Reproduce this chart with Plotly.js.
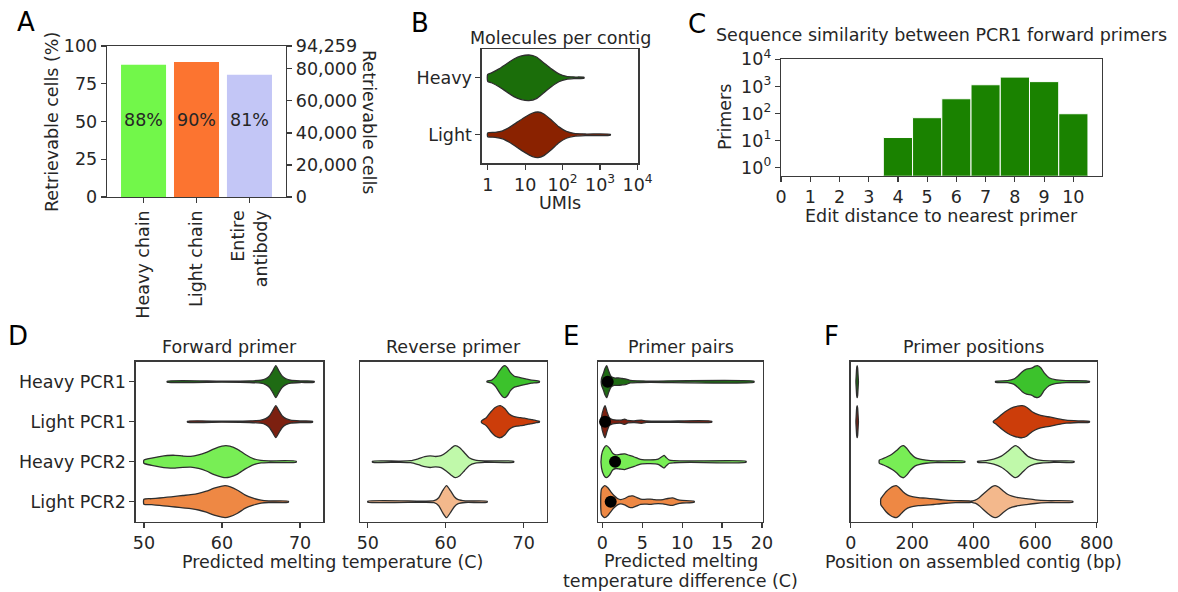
<!DOCTYPE html>
<html><head><meta charset="utf-8">
<script src="https://cdn.plot.ly/plotly-3.0.1.min.js"></script>
<style>html,body{margin:0;padding:0;background:#fff}#chart{width:1178px;height:592px}</style>
</head><body><div id="chart"></div>
<script>
// ---------- Panel A ----------
const A_categories = ["Heavy chain", "Light chain", "Entire<br>antibody"];
const A_percent = [87.6, 89.4, 80.9];
const A_labels = ["88%", "90%", "81%"];
const A_total_cells = 94259;
const A_cell_ticks = [0, 20000, 40000, 60000, 80000, 94259];
const A_pct_ticks = [0, 25, 50, 75, 100];
const A_colors = ["#72f74a", "#fc7430", "#c3c6f6"];

// ---------- Panel B ----------
const B_groups = ["Heavy", "Light"];
const B_heavy_umi = [1, 1.26, 2, 3.16, 5, 7.94, 12.6, 20, 31.6, 50, 79.4, 126, 200, 370];
const B_heavy_density = [3.5, 5, 9, 14, 19, 22, 23, 21, 15, 9, 4, 1.5, 0.8, 0.5];
const B_light_umi = [1, 1.58, 2.5, 4, 6.3, 10, 15.8, 22, 31.6, 50, 79.4, 126, 200, 400, 1860];
const B_light_density = [2, 2.5, 4, 8, 13, 18, 22, 23, 21, 15, 8, 3.5, 1.5, 0.8, 0.5];
const B_colors = ["#1b6e0a", "#8a2200"];
const B_ticks = [1, 10, 100, 1000, 10000];
const B_ticktext = ["1", "10", "10<sup>2</sup>", "10<sup>3</sup>", "10<sup>4</sup>"];

// ---------- Panel C ----------
const C_edit_distance = [4, 5, 6, 7, 8, 9, 10];
const C_primers = [13, 70, 350, 1150, 2200, 1500, 98];
const C_xticks = [0,1,2,3,4,5,6,7,8,9,10];
const C_yticks = [1, 10, 100, 1000, 10000];
const C_yticktext = ["10<sup>0</sup>", "10<sup>1</sup>", "10<sup>2</sup>", "10<sup>3</sup>", "10<sup>4</sup>"];

// ---------- Panel D ----------
const D_rows = ["Heavy PCR1", "Light PCR1", "Heavy PCR2", "Light PCR2"];
const D_fwd_colors = ["#1f6b14", "#7c2010", "#78ee55", "#ee8844"];
const D_rev_colors = ["#3cc22c", "#cc3d0a", "#c0f9aa", "#f3b88c"];
const D_fwd_tm = [
  [53, 60, 63.5, 65, 65.6, 66.1, 66.5, 66.9, 67.3, 67.7, 68.2, 68.8, 70, 71.8],
  [55.6, 60, 63.5, 65, 65.6, 66.1, 66.5, 66.9, 67.3, 67.7, 68.2, 68.8, 70, 71.6],
  [50, 51, 52, 53, 54, 55, 56, 57, 58, 59, 60, 60.5, 61, 62, 63, 64, 65, 66, 69.5],
  [50, 51, 52, 53, 54, 55, 56, 57, 58, 59, 60, 60.4, 61, 62, 63, 64, 65, 66, 68.5]
];
const D_fwd_density = [
  [0.5, 0.5, 0.8, 1.5, 3, 6, 11, 16.5, 11, 6, 3, 1.5, 0.8, 0.5],
  [0.5, 0.5, 0.8, 1.5, 3, 6, 11, 16, 11, 6, 3, 1.5, 0.8, 0.5],
  [1.5, 3.5, 5, 6, 6.2, 5.5, 5.2, 6.5, 9, 12.5, 15, 15.5, 15, 12, 7, 3, 1.2, 0.8, 0.5],
  [2.5, 3, 3.7, 4.5, 5.3, 6.2, 7, 8.3, 10.5, 13.5, 15.5, 16, 15, 11.5, 6.5, 3.5, 1.5, 0.8, 0.5]
];
const D_rev_tm = [
  [65.3, 65.9, 66.4, 66.9, 67.3, 67.6, 67.9, 68.3, 68.8, 69.3, 69.8, 70.4, 71.0, 72.0],
  [64.6, 65.2, 65.8, 66.4, 67.0, 67.6, 68.1, 68.6, 69.1, 69.6, 70.1, 70.6, 71.1, 71.6, 72.0],
  [50.6, 54, 55.5, 56.5, 57.3, 58, 58.7, 59.4, 60.1, 60.7, 61.2, 61.8, 62.4, 63.0, 63.8, 65, 68.7],
  [50, 57, 58.5, 59.1, 59.6, 60.1, 60.6, 61.1, 61.6, 62.5, 65.3]
];
const D_rev_density = [
  [0.5, 1.5, 5, 11, 15, 16, 14, 9, 5.5, 4.5, 3.5, 2.5, 1.5, 0.5],
  [1, 4, 10, 14.5, 16, 13, 8, 5.5, 4.5, 4, 3.5, 2.5, 2, 1, 0.5],
  [0.5, 0.6, 1, 3, 5, 5.8, 5.2, 6, 9.5, 13.5, 16, 14, 9, 4, 1.5, 0.7, 0.5],
  [0.5, 0.6, 1, 4, 11, 16, 11, 5, 2, 0.8, 0.5]
];

// ---------- Panel E ----------
const E_diff = [
  [-0.1, 0.15, 0.35, 0.55, 0.8, 1.1, 1.5, 2.0, 2.5, 3.0, 3.5, 4.5, 6, 19],
  [-0.1, 0.15, 0.35, 0.6, 0.9, 1.3, 1.8, 2.4, 2.8, 3.2, 4, 4.9, 5.5, 8, 13.7],
  [-0.1, 0.2, 0.5, 0.9, 1.3, 1.7, 2.2, 2.8, 3.4, 4.0, 4.5, 5.0, 6.0, 7.0, 7.5, 7.75, 8.0, 8.4, 9, 11, 18],
  [-0.1, 0.3, 0.7, 1.1, 1.5, 1.9, 2.3, 2.8, 3.3, 3.8, 4.3, 4.8, 5.3, 6.0, 6.5, 7.0, 7.6, 8.2, 8.8, 9.4, 10, 11.5]
];
const E_density = [
  [3, 8, 12.5, 15, 10, 5, 3.5, 3.5, 3, 2.5, 1.2, 0.8, 0.6, 0.5],
  [4, 12, 15, 9, 3.5, 2, 1.5, 1.5, 2.5, 1.2, 0.8, 1.5, 0.7, 0.5, 0.5],
  [6, 13, 15.3, 13, 8, 6.5, 7, 7.5, 6, 4.5, 3, 2, 1.8, 2.5, 5, 6, 4, 1.5, 1, 0.7, 0.5],
  [12, 15, 13, 9, 5.5, 3, 2, 3, 5, 5.5, 4, 2.5, 2.2, 2.5, 2, 1.8, 2, 3, 3.5, 2, 1.2, 0.5]
];
const E_median = [0.68, 0.35, 1.6, 1.05];

// ---------- Panel F ----------
const F_fwd_pos = [
  [17, 18, 19.5, 21, 22.5, 24, 25],
  [17, 18, 19.5, 21, 22.5, 24, 25],
  [93, 105, 120, 135, 150, 162, 172, 182, 195, 210, 225, 245, 275, 371],
  [98, 105, 115, 128, 140, 148, 158, 170, 185, 200, 220, 245, 270, 300, 340, 395]
];
const F_fwd_density = [
  [1, 6, 13, 15, 13, 6, 1],
  [1, 6, 13, 15, 13, 6, 1],
  [1.5, 3, 5, 7.5, 11, 14.5, 15.5, 13, 8, 4, 2.5, 1.5, 0.8, 0.5],
  [3, 6, 10, 13.5, 15.5, 16, 14, 10, 6.5, 5, 4, 3.5, 2.8, 1.8, 1, 0.5]
];
const F_rev_pos = [
  [471, 510, 530, 545, 558, 572, 588, 600, 607, 618, 630, 645, 665, 700, 776],
  [464, 475, 492, 510, 530, 548, 558, 572, 590, 610, 630, 650, 672, 700, 740, 776],
  [413, 440, 465, 490, 510, 525, 535, 545, 560, 578, 598, 620, 660, 726],
  [393, 405, 418, 432, 447, 460, 470, 482, 495, 510, 525, 545, 570, 600, 640, 722]
];
const F_rev_density = [
  [0.5, 1, 2.5, 6, 10, 12.5, 13.5, 15.5, 16, 14, 8.5, 4, 2, 1, 0.5],
  [0.5, 3, 7.5, 11.5, 14.5, 15.8, 16, 14.5, 10, 7, 5.5, 4.5, 3, 1.5, 0.8, 0.5],
  [0.5, 1, 2.5, 5.5, 10, 14, 15.8, 14.5, 10, 5, 2.5, 1.3, 0.7, 0.5],
  [0.5, 1.5, 4, 8, 12, 15, 16, 14.5, 11, 7.5, 5.5, 4, 3, 1.8, 1, 0.5]
];

// ---------- layout helpers ----------
const W = 1178, H = 592;
const FONT = "DejaVu Sans";
const FS = 17.5;
const TXT = "#262626";
const LINE = "#3a3a3a";
const xd = (a, b) => [a / W, b / W];
const yd = (top, bottom) => [1 - bottom / H, 1 - top / H];
const px = v => v / W, py = v => 1 - v / H;

function ax(extra) {
  return Object.assign({
    showline: true, linecolor: LINE, linewidth: 1.3, mirror: true,
    ticks: "outside", ticklen: 5, tickwidth: 1.2, tickcolor: LINE,
    showgrid: false, zeroline: false, fixedrange: true,
    tickfont: {family: FONT, size: FS, color: TXT}
  }, extra);
}
function violin(xs, dens, row, color, xa, ya) {
  const m = Math.max(...dens);
  const hw = dens.map(d => 0.4 * d / m);
  const x = xs.concat(xs.slice().reverse()).concat([xs[0]]);
  const y = xs.map((_, i) => row - hw[i])
    .concat(xs.map((_, i) => row + hw[i]).reverse())
    .concat([row - hw[0]]);
  return {type: "scatter", x, y, xaxis: xa, yaxis: ya, mode: "lines", fill: "toself",
    fillcolor: color, line: {color: "#2e2e2e", width: 1.3, shape: "spline", smoothing: 0.6},
    hoverinfo: "skip", showlegend: false};
}

const traces = [];
// A
traces.push({type: "bar", x: A_categories, y: A_percent, marker: {color: A_colors}, width: 0.85,
  xaxis: "x", yaxis: "y", showlegend: false, hoverinfo: "skip"});
traces.push({type: "scatter", mode: "text", x: A_categories, y: A_percent.map(() => 50), text: A_labels,
  textfont: {family: FONT, size: FS, color: TXT}, xaxis: "x", yaxis: "y", showlegend: false, hoverinfo: "skip"});
traces.push({type: "scatter", mode: "markers", x: A_categories, y: A_percent.map(p => p / 100 * A_total_cells),
  marker: {opacity: 0}, xaxis: "x", yaxis: "y2", showlegend: false, hoverinfo: "skip"});
// B
traces.push(violin(B_heavy_umi, B_heavy_density, 0, B_colors[0], "x3", "y3"));
traces.push(violin(B_light_umi, B_light_density, 1, B_colors[1], "x3", "y3"));
// C
traces.push({type: "bar", x: C_edit_distance, y: C_primers, width: 1, marker: {color: "#1a8200", line: {color: "#ffffff", width: 1}},
  xaxis: "x4", yaxis: "y4", showlegend: false, hoverinfo: "skip"});
// D
for (let r = 0; r < 4; r++) {
  traces.push(violin(D_fwd_tm[r], D_fwd_density[r], r, D_fwd_colors[r], "x5", "y5"));
  traces.push(violin(D_rev_tm[r], D_rev_density[r], r, D_rev_colors[r], "x6", "y6"));
}
// E
for (let r = 0; r < 4; r++) traces.push(violin(E_diff[r], E_density[r], r, D_fwd_colors[r], "x7", "y7"));
traces.push({type: "scatter", mode: "markers", x: E_median, y: [0, 1, 2, 3], marker: {color: "#000", size: 12},
  xaxis: "x7", yaxis: "y7", showlegend: false, hoverinfo: "skip"});
// F
for (let r = 0; r < 4; r++) {
  traces.push(violin(F_fwd_pos[r], F_fwd_density[r], r, D_fwd_colors[r], "x8", "y8"));
  traces.push(violin(F_rev_pos[r], F_rev_density[r], r, D_rev_colors[r], "x8", "y8"));
}

const rowsDom = yd(361.7, 521.7);
function rowAxis(anchor, labels) {
  const o = {domain: rowsDom, anchor, range: [3.5, -0.5]};
  if (labels) { o.tickvals = [0, 1, 2, 3]; o.ticktext = labels; }
  else { o.ticks = ""; o.showticklabels = false; }
  return ax(o);
}

const layout = {
  width: W, height: H, margin: {l: 0, r: 0, t: 0, b: 0},
  paper_bgcolor: "#fff", plot_bgcolor: "rgba(0,0,0,0)", showlegend: false,
  font: {family: FONT, size: FS, color: TXT},
  // A
  xaxis: ax({domain: xd(107, 286), anchor: "y", type: "category", range: [-0.69, 2.69], tickangle: -90}),
  yaxis: ax({domain: yd(46, 197), anchor: "x", range: [0, 100], tickvals: A_pct_ticks}),
  yaxis2: ax({overlaying: "y", anchor: "x", side: "right", mirror: false, range: [0, A_total_cells],
    tickvals: A_cell_ticks, ticktext: A_cell_ticks.map(v => v.toLocaleString("en-US"))}),
  // B
  xaxis3: ax({domain: xd(481.7, 638.3), anchor: "y3", type: "log", range: [-0.16, 4.02], tickvals: B_ticks, ticktext: B_ticktext}),
  yaxis3: ax({domain: yd(49.3, 163.3), anchor: "x3", range: [1.5, -0.5], tickvals: [0, 1], ticktext: B_groups}),
  // C
  xaxis4: ax({domain: xd(781, 1101.7), anchor: "y4", range: [0, 10.97], tickvals: C_xticks}),
  yaxis4: ax({domain: yd(59.3, 175.7), anchor: "x4", type: "log", range: [-0.295, 4], tickvals: C_yticks, ticktext: C_yticktext}),
  // D
  xaxis5: ax({domain: xd(135.7, 323.2), anchor: "y5", range: [48.95, 72.97], tickvals: [50, 60, 70]}),
  yaxis5: rowAxis("x5", D_rows),
  xaxis6: ax({domain: xd(360, 547.1), anchor: "y6", range: [49, 73], tickvals: [50, 60, 70]}),
  yaxis6: rowAxis("x6"),
  // E
  xaxis7: ax({domain: xd(598.3, 762.7), anchor: "y7", range: [-0.5, 20.09], tickvals: [0, 5, 10, 15, 20]}),
  yaxis7: rowAxis("x7"),
  // F
  xaxis8: ax({domain: xd(850.7, 1096.7), anchor: "y8", range: [0, 800], tickvals: [0, 200, 400, 600, 800]}),
  yaxis8: rowAxis("x8"),
  annotations: []
};

function note(text, x, y, opts) {
  layout.annotations.push(Object.assign({text, x: px(x), y: py(y), xref: "paper", yref: "paper",
    showarrow: false, xanchor: "center", yanchor: "middle",
    font: {family: FONT, size: FS, color: TXT}}, opts || {}));
}
// panel letters
const big = {family: FONT, size: 26, color: "#000"};
note("A", 15, 22, {xanchor: "left", font: big});
note("B", 409, 23, {xanchor: "left", font: big});
note("C", 686, 24, {xanchor: "left", font: big});
note("D", 6, 336, {xanchor: "left", font: big});
note("E", 561, 336, {xanchor: "left", font: big});
note("F", 822, 336, {xanchor: "left", font: big});
// titles
note("Molecules per contig", 560, 38);
note("Sequence similarity between PCR1 forward primers", 941, 35);
note("Forward primer", 229, 347);
note("Reverse primer", 453.6, 347);
note("Primer pairs", 680.5, 347);
note("Primer positions", 973.7, 347);
// axis titles
note("Retrievable cells (%)", 52, 122, {textangle: -90});
note("Retrievable cells", 369, 122, {textangle: 90});
note("UMIs", 560, 203);
note("Primers", 725, 117, {textangle: -90});
note("Edit distance to nearest primer", 941, 216);
note("Predicted melting temperature (C)", 332, 562);
note("Predicted melting", 680.5, 561);
note("temperature difference (C)", 680.5, 580.5);
note("Position on assembled contig (bp)", 973.7, 562);

Plotly.newPlot("chart", traces, layout, {staticPlot: true, displayModeBar: false});
</script>
</body></html>
